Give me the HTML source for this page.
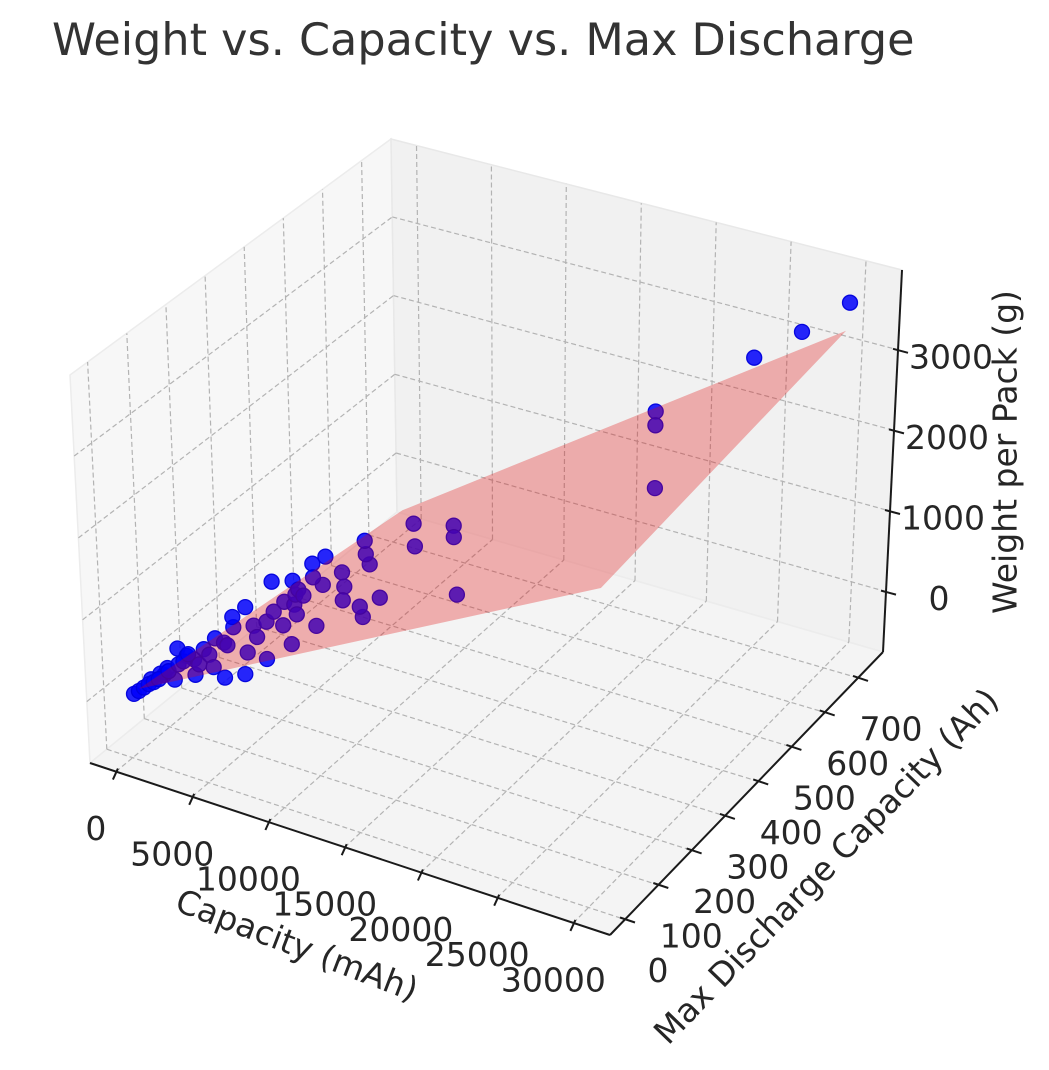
<!DOCTYPE html>
<html><head><meta charset="utf-8"><style>
html,body{margin:0;padding:0;background:#fff;}
svg{display:block;font-family:"DejaVu Sans","Liberation Sans",sans-serif;}
</style></head><body>
<svg id="chart" width="1049" height="1070" viewBox="0 0 1049 1070" xmlns="http://www.w3.org/2000/svg">
<rect x="0" y="0" width="1049" height="1070" fill="#ffffff"/>
<text x="52" y="55" font-size="44.5" fill="#333333">Weight vs. Capacity vs. Max Discharge</text>
<g id="panes"></g>
<g id="grid"></g>
<g id="points"></g>
<g id="surface"></g>
<g id="axes"></g>
<text x="297" y="945" font-size="33" fill="#262626" text-anchor="middle" dominant-baseline="central" transform="rotate(21 297 945)">Capacity (mAh)</text>
<text x="826" y="866" font-size="33" fill="#262626" text-anchor="middle" dominant-baseline="central" transform="rotate(-46 826 866)">Max Discharge Capacity (Ah)</text>
<text x="1005" y="452" font-size="33" fill="#262626" text-anchor="middle" dominant-baseline="central" transform="rotate(-90 1005 452)">Weight per Pack (g)</text>
</svg>
<script>
// ---- data ----
const capX = [30300,28300,26300,22100,22100,22090,13600,13600,13700,11930,11970,9890,9920,10065,8915,8240,7717,6862,6000,6974,6906,6056,6429,8927,9630,10476,9738,7811,4884,4361,5330,5734,6768,3961,3112,4927,3944,4798,5717,2700,2060,1644,1227,807,180,2472,2030,7691,7094,1017,386,1438,2270,3339,1876,2730,4343,600,1300,2900,3500,7300,8100,6500,5200,9000,7000,3600,2400,1600,900,4100];
const dischY = [720,672,624,528,528,530,326,326,329,286,287,237,238,242,214,198,185,165,144,167,166,145,154,214,231,251,234,187,117,105,128,138,162,95,75,118,95,115,137,65,49,39,29,19,4,59,49,185,170,24,9,35,54,80,45,66,104,14,31,70,84,175,195,156,125,216,168,86,58,38,22,98];
const weightZ = [3700,3430,3200,2700,2530,1750,1630,1490,780,1716,1437,1580,1415,1283,1227,1442,1209,1193,1213,1024,901,845,666,886,783,864,652,613,940,709,558,731,426,535,480,384,107,124,278,369,331,259,174,127,25,442,522,1374,1082,145,55,216,360,407,148,179,836,90,240,300,250,1000,1100,950,700,1050,780,600,420,300,180,500];
const surfX = [386,11470,30100,19830,4227];
const surfY = [9,275,721,476,101];
const surfZ = [80,1897,3340,617,209];
const xTicks = [0,5000,10000,15000,20000,25000,30000];
const yTicks = [0,100,200,300,400,500,600,700];
const zTicks = [0,1000,2000,3000];
const xTickLabels = ["0","5000","10000","15000","20000","25000","30000"];
const yTickLabels = ["0","100","200","300","400","500","600","700"];
const zTickLabels = ["0","1000","2000","3000"];

// ---- projection (box corners in screen space) ----
const XMIN=-1700, XMAX=32400, YMIN=-45, YMAX=775, ZMIN=-750, ZMAX=3990;
const C = {
  p000:[90,763], p100:[610,935], p110:[883,652], p010:[397,512],
  p001:[70,375], p101:[612,530], p111:[902,270], p011:[391,139]
};
function proj(x,y,z){
  const u=(x-XMIN)/(XMAX-XMIN), v=(y-YMIN)/(YMAX-YMIN), w=(z-ZMIN)/(ZMAX-ZMIN);
  const out=[0,0];
  for(let k=0;k<2;k++){
    const b=(1-u)*(1-v)*C.p000[k]+u*(1-v)*C.p100[k]+u*v*C.p110[k]+(1-u)*v*C.p010[k];
    const t=(1-u)*(1-v)*C.p001[k]+u*(1-v)*C.p101[k]+u*v*C.p111[k]+(1-u)*v*C.p011[k];
    out[k]=b+(t-b)*w;
  }
  return out;
}
const NS="http://www.w3.org/2000/svg";
function mk(tag,parent,attrs){const e=document.createElementNS(NS,tag);for(const k in attrs)e.setAttribute(k,attrs[k]);parent.appendChild(e);return e;}
function pts(arr){return arr.map(p=>p[0].toFixed(1)+","+p[1].toFixed(1)).join(" ");}

// panes
const panes=document.getElementById('panes');
let pl=mk('polygon',panes,{points:pts([proj(XMIN,YMIN,ZMIN),proj(XMIN,YMAX,ZMIN),proj(XMIN,YMAX,ZMAX),proj(XMIN,YMIN,ZMAX)]),fill:'#f7f7f7',stroke:'#ececec','stroke-width':1.5});


pl=mk('polygon',panes,{points:pts([proj(XMIN,YMAX,ZMIN),proj(XMAX,YMAX,ZMIN),proj(XMAX,YMAX,ZMAX),proj(XMIN,YMAX,ZMAX)]),fill:'#f1f1f1',stroke:'#e8e8e8','stroke-width':1.5});


pl=mk('polygon',panes,{points:pts([proj(XMIN,YMIN,ZMIN),proj(XMAX,YMIN,ZMIN),proj(XMAX,YMAX,ZMIN),proj(XMIN,YMAX,ZMIN)]),fill:'#f4f4f4',stroke:'#ececec','stroke-width':1.5});



// grid
const grid=document.getElementById('grid');
const gs={stroke:'#b3b3b3','stroke-width':1.2,'stroke-dasharray':'5,3',fill:'none'};
function gline(a,b,name){const p=mk('polyline',grid,Object.assign({points:pts([a,b])},gs));}
xTicks.forEach(t=>{gline(proj(t,YMIN,ZMIN),proj(t,YMAX,ZMIN),'floor-gridline-x');gline(proj(t,YMAX,ZMIN),proj(t,YMAX,ZMAX),'back-gridline-x');});
yTicks.forEach(t=>{gline(proj(XMIN,t,ZMIN),proj(XMAX,t,ZMIN),'floor-gridline-y');gline(proj(XMIN,t,ZMIN),proj(XMIN,t,ZMAX),'left-gridline-y');});
zTicks.forEach(t=>{gline(proj(XMIN,YMIN,t),proj(XMIN,YMAX,t),'left-gridline-z');gline(proj(XMIN,YMAX,t),proj(XMAX,YMAX,t),'back-gridline-z');});

// points (draw far first)
const pg=document.getElementById('points');
const order=capX.map((_,i)=>i).sort((a,b)=>(capX[a]-dischY[a]*40)-(capX[b]-dischY[b]*40));
order.forEach(i=>{
  const p=proj(capX[i],dischY[i],weightZ[i]);
  const c=mk('circle',pg,{cx:p[0].toFixed(1),cy:p[1].toFixed(1),r:7.5,fill:'rgba(0,0,250,0.85)',stroke:'rgba(0,0,220,0.95)','stroke-width':1.3});
  
  
});

// surface
const sg=document.getElementById('surface');
const sp=surfX.map((x,i)=>proj(x,surfY[i],surfZ[i]));
const poly=mk('polygon',sg,{points:pts(sp),fill:'rgba(225,10,10,0.3)',stroke:'none'});



// axes
const ax=document.getElementById('axes');
function aline(a,b,name){const l=mk('polyline',ax,{points:pts([a,b]),stroke:'#1a1a1a','stroke-width':2,fill:'none'});}
aline(proj(XMIN,YMIN,ZMIN),proj(XMAX,YMIN,ZMIN),'x-axis-line');
aline(proj(XMAX,YMIN,ZMIN),proj(XMAX,YMAX,ZMIN),'y-axis-line');
aline(proj(XMAX,YMAX,ZMIN),proj(XMAX,YMAX,ZMAX),'z-axis-line');
function tlabel(x,y,s,name){const t=mk('text',ax,{x:x.toFixed(1),y:y.toFixed(1),'font-size':33,fill:'#262626','text-anchor':'middle','dominant-baseline':'central'});t.textContent=s;}
xTicks.forEach((t,i)=>{const p=proj(t,YMIN,ZMIN);aline([p[0]+2,p[1]-3],[p[0]-3,p[1]+8],'x-tick');tlabel(p[0]-20,p[1]+57,xTickLabels[i],'x-tick-label');});
yTicks.forEach((t,i)=>{const p=proj(XMAX,t,ZMIN);aline([p[0]-5,p[1]-2],[p[0]+10,p[1]+3],'y-tick');tlabel(p[0]+33,p[1]+51,yTickLabels[i],'y-tick-label');});
zTicks.forEach((t,i)=>{const p=proj(XMAX,YMAX,t);aline([p[0]-5,p[1]-1],[p[0]+10,p[1]+3],'z-tick');tlabel(p[0]+53,p[1]+7,zTickLabels[i],'z-tick-label');});
</script>
</body></html>
